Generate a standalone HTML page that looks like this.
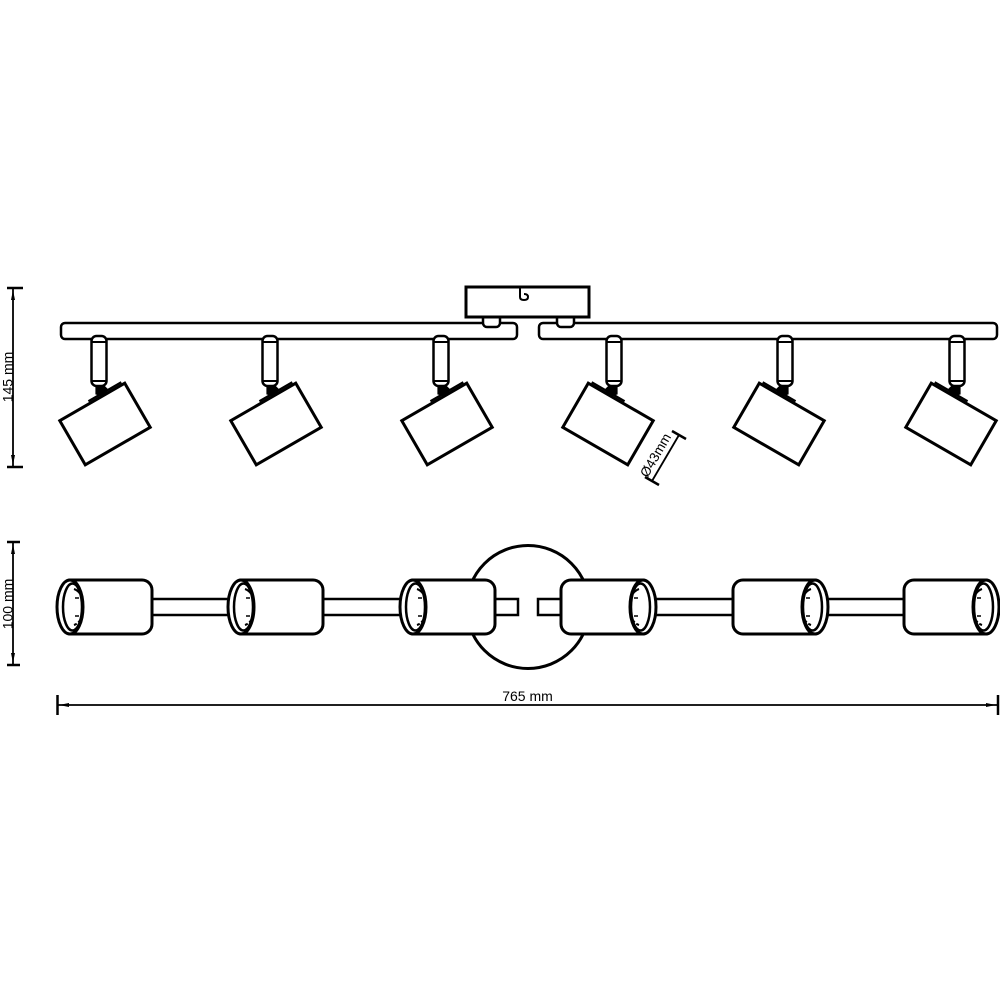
<!DOCTYPE html>
<html><head><meta charset="utf-8"><style>
html,body{margin:0;padding:0;background:#fff;}
svg{display:block;}
text{font-family:"Liberation Sans",sans-serif;fill:#000;}
</style></head><body>
<svg width="1000" height="1000" viewBox="0 0 1000 1000" xmlns="http://www.w3.org/2000/svg">
<defs>
  <g id="spot">
    <rect x="-7.5" y="336" width="15" height="50" rx="5" fill="#fff" stroke="#000" stroke-width="2.5"/>
    <line x1="-7.5" y1="342" x2="7.5" y2="342" stroke="#000" stroke-width="2"/>
    <line x1="-7.5" y1="381" x2="7.5" y2="381" stroke="#000" stroke-width="2"/>
    <polygon points="-3,386 5,386 9,390 3,396 -3,394" fill="#000" stroke="#000" stroke-width="1.2"/>
    <g transform="translate(6,424) rotate(-30)">
      <rect x="-37.5" y="-25.5" width="75" height="51" fill="#fff" stroke="#000" stroke-width="3"/>
      <line x1="-3" y1="-28" x2="35" y2="-28" stroke="#000" stroke-width="2.2"/>
    </g>
  </g>
  <g id="cyl">
    <path d="M0,580 H72 A10,10 0 0 1 82,590 V624 A10,10 0 0 1 72,634 H0 Z" fill="#fff" stroke="#000" stroke-width="3"/>
    <ellipse cx="0" cy="607" rx="13" ry="27" fill="#fff" stroke="#000" stroke-width="3"/>
    <ellipse cx="2.5" cy="607" rx="9.5" ry="23.5" fill="none" stroke="#000" stroke-width="2.5"/>
    <path d="M4,589 Q13,592 13,607 Q13,622 4,625" fill="none" stroke="#000" stroke-width="2" stroke-dasharray="8,2"/>
    <line x1="5" y1="598" x2="9" y2="598" stroke="#000" stroke-width="1.5"/>
    <line x1="5" y1="616" x2="9" y2="616" stroke="#000" stroke-width="1.5"/>
  </g>
</defs>

<!-- ===== TOP VIEW ===== -->
<rect x="61" y="323" width="456" height="16" rx="4" fill="#fff" stroke="#000" stroke-width="2.5"/>
<rect x="539" y="323" width="458" height="16" rx="4" fill="#fff" stroke="#000" stroke-width="2.5"/>
<rect x="483" y="312" width="17" height="15" rx="4" fill="#fff" stroke="#000" stroke-width="2.5"/>
<rect x="557" y="312" width="17" height="15" rx="4" fill="#fff" stroke="#000" stroke-width="2.5"/>
<rect x="466" y="287" width="123" height="30" fill="#fff" stroke="#000" stroke-width="3"/>
<path d="M520,288 V297 Q520,300 524,300 Q528,300 528,297 Q528,294 524,294" fill="none" stroke="#000" stroke-width="2"/>

<use href="#spot" transform="translate(99,0)"/>
<use href="#spot" transform="translate(270,0)"/>
<use href="#spot" transform="translate(441,0)"/>
<use href="#spot" transform="translate(614,0) scale(-1,1)"/>
<use href="#spot" transform="translate(785,0) scale(-1,1)"/>
<use href="#spot" transform="translate(957,0) scale(-1,1)"/>

<!-- diameter dim -->
<line x1="652" y1="481" x2="679" y2="435" stroke="#000" stroke-width="1.8"/>
<line x1="672" y1="431" x2="686" y2="439" stroke="#000" stroke-width="2.5"/>
<line x1="645" y1="477" x2="659" y2="485" stroke="#000" stroke-width="2.5"/>
<text x="0" y="0" font-size="13.5" text-anchor="middle" transform="translate(659.5,457.5) rotate(-60)">Ø43mm</text>

<!-- left vertical dim 145 -->
<line x1="13" y1="289" x2="13" y2="466" stroke="#000" stroke-width="1.8"/>
<line x1="7" y1="288" x2="23" y2="288" stroke="#000" stroke-width="2.5"/>
<line x1="7" y1="467" x2="23" y2="467" stroke="#000" stroke-width="2.5"/>
<polygon points="13,290 11,300 15,300" fill="#000"/>
<polygon points="13,465 11,455 15,455" fill="#000"/>
<text x="0" y="0" font-size="14" text-anchor="middle" transform="translate(12.5,377) rotate(-90)">145 mm</text>

<!-- ===== BOTTOM VIEW ===== -->
<circle cx="528" cy="607" r="61.5" fill="#fff" stroke="#000" stroke-width="3"/>
<rect x="150" y="599" width="82" height="16" fill="#fff" stroke="#000" stroke-width="2.5"/>
<rect x="321" y="599" width="83" height="16" fill="#fff" stroke="#000" stroke-width="2.5"/>
<rect x="490" y="599" width="28" height="16" fill="#fff" stroke="#000" stroke-width="2.5"/>
<rect x="538" y="599" width="28" height="16" fill="#fff" stroke="#000" stroke-width="2.5"/>
<rect x="652" y="599" width="84" height="16" fill="#fff" stroke="#000" stroke-width="2.5"/>
<rect x="824" y="599" width="83" height="16" fill="#fff" stroke="#000" stroke-width="2.5"/>
<use href="#cyl" transform="translate(70,0)"/>
<use href="#cyl" transform="translate(241,0)"/>
<use href="#cyl" transform="translate(413,0)"/>
<use href="#cyl" transform="translate(643,0) scale(-1,1)"/>
<use href="#cyl" transform="translate(815,0) scale(-1,1)"/>
<use href="#cyl" transform="translate(986,0) scale(-1,1)"/>

<!-- left vertical dim 100 -->
<line x1="13" y1="543" x2="13" y2="664" stroke="#000" stroke-width="1.8"/>
<line x1="7" y1="542" x2="20" y2="542" stroke="#000" stroke-width="2.5"/>
<line x1="7" y1="665" x2="20" y2="665" stroke="#000" stroke-width="2.5"/>
<polygon points="13,544 11,554 15,554" fill="#000"/>
<polygon points="13,663 11,653 15,653" fill="#000"/>
<text x="0" y="0" font-size="14" text-anchor="middle" transform="translate(12.5,604) rotate(-90)">100 mm</text>

<!-- horizontal dim 765 -->
<line x1="58" y1="705" x2="997" y2="705" stroke="#000" stroke-width="1.8"/>
<line x1="57.5" y1="695" x2="57.5" y2="715" stroke="#000" stroke-width="2.5"/>
<line x1="998" y1="695" x2="998" y2="715" stroke="#000" stroke-width="2.5"/>
<polygon points="59,705 69,703 69,707" fill="#000"/>
<polygon points="996,705 986,703 986,707" fill="#000"/>
<text x="527.5" y="701" font-size="14" text-anchor="middle">765 mm</text>
</svg>
</body></html>
